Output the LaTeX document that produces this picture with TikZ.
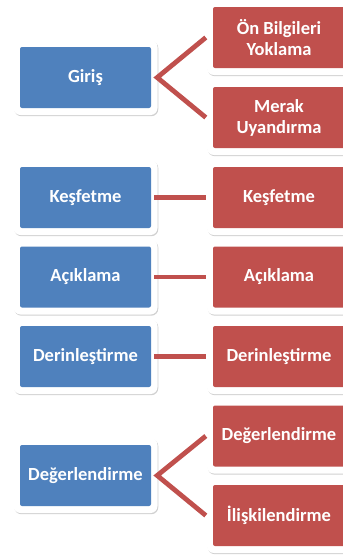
\documentclass[tikz,border=0pt]{standalone}
\usepackage{fontspec}
\setmainfont{Carlito}
\usetikzlibrary{shadows}
\definecolor{boxblue}{HTML}{4F81BD}
\definecolor{boxred}{HTML}{C0504D}
\tikzset{
  frame/.style={fill=white, rounded corners=7pt, minimum width=144pt, minimum height=75pt, inner sep=0pt,
    drop shadow={shadow xshift=0.8pt, shadow yshift=-1.2pt, opacity=0.3, fill=black!60}},
  cbox/.style={rounded corners=2pt, minimum height=61pt, inner sep=0pt, text=white,
    font=\bfseries\fontsize{18.5}{21}\selectfont, align=center},
  bluebox/.style={cbox, fill=boxblue, minimum width=131pt},
  redbox/.style={cbox, fill=boxred, minimum width=132pt},
  conn/.style={draw=boxred, line width=4.8pt, line join=miter}
}
\begin{document}
\begin{tikzpicture}[x=1pt,y=-1pt]
\useasboundingbox (0,0) rectangle (343,558);
% frames
\foreach \n/\x/\y in {fa/85.5/77.5, fb/85.5/197.5, fc/85.5/277, fd/85.5/356.5, fe/85.5/475.5,
  ga/279/37.5, gb/279/117.5, gc/279/197.5, gd/279/277, ge/279/356.5, gf/279/436, gg/279/515.5}
  \node[frame] (\n) at (\x,\y) {};
% boxes
\node[bluebox] (giris) at (85.5,77.5) {Giriş};
\node[bluebox] (kesB) at (85.5,197.5) {Keşfetme};
\node[bluebox] (aciB) at (85.5,277) {Açıklama};
\node[bluebox] (derB) at (85.5,356.5) {Derinleştirme};
\node[bluebox] (degB) at (85.5,475.5) {Değerlendirme};
\node[redbox] (on) at (279,37.5) {Ön Bilgileri\\Yoklama};
\node[redbox] (merak) at (279,117.5) {Merak\\Uyandırma};
\node[redbox] (kesR) at (279,197.5) {Keşfetme};
\node[redbox] (aciR) at (279,277) {Açıklama};
\node[redbox] (derR) at (279,356.5) {Derinleştirme};
\node[redbox] (degR) at (279,436) {Değerlendirme};
\node[redbox] (ilis) at (279,515.5) {İlişkilendirme};
% connectors
\draw[conn] ([xshift=-7pt]on.west) -- ([xshift=6pt]giris.east) -- ([xshift=-7pt]merak.west);
\draw[conn] ([xshift=3pt]kesB.east) -- ([xshift=-7pt]kesR.west);
\draw[conn] ([xshift=3pt]aciB.east) -- ([xshift=-7pt]aciR.west);
\draw[conn] ([xshift=3pt]derB.east) -- ([xshift=-7pt]derR.west);
\draw[conn] ([xshift=-7pt]degR.west) -- ([xshift=6pt]degB.east) -- ([xshift=-7pt]ilis.west);
\end{tikzpicture}
\end{document}
